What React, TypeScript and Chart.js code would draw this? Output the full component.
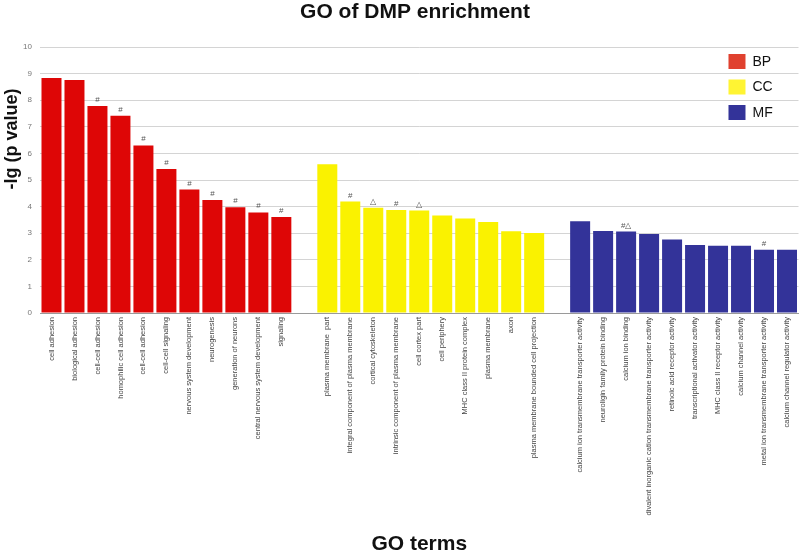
import React, { useEffect, useRef } from "react";
import { Chart, registerables } from "chart.js";

Chart.register(...registerables);

const bpTerms = [
  "cell adhesion",
  "biological adhesion",
  "cell-cell adhesion",
  "homophilic cell adhesion",
  "cell-cell adhesion",
  "cell-cell signaling",
  "nervous system development",
  "neurogenesis",
  "generation of neurons",
  "central nervous system development",
  "signaling",
];
const bpValues = [8.83, 8.76, 7.78, 7.42, 6.3, 5.41, 4.64, 4.25, 3.98, 3.78, 3.61];
const bpMarks = ["", "", "#", "#", "#", "#", "#", "#", "#", "#", "#"];

const ccTerms = [
  "plasma membrane  part",
  "integral component of plasma membrane",
  "cortical cytoskeleton",
  "intrinsic component of plasma membrane",
  "cell cortex part",
  "cell periphery",
  "MHC class II protein complex",
  "plasma membrane",
  "axon",
  "plasma membrane bounded cell projection",
];
const ccValues = [5.59, 4.19, 3.96, 3.87, 3.85, 3.67, 3.55, 3.42, 3.07, 3.01];
const ccMarks = ["", "#", "△", "#", "△", "", "", "", "", ""];

const mfTerms = [
  "calcium ion transmembrane transporter activity",
  "neuroligin family protein binding",
  "calcium ion binding",
  "divalent inorganic cation transmembrane transporter activity",
  "retinoic acid receptor activity",
  "transcriptional activator activity",
  "MHC class II receptor activity",
  "calcium channel activity",
  "metal ion transmembrane transporter activity",
  "calcium channel regulator activity",
];
const mfValues = [3.45, 3.08, 3.06, 2.97, 2.76, 2.56, 2.53, 2.53, 2.38, 2.38];
const mfMarks = ["", "", "#△", "", "", "", "", "", "#", ""];

const seriesNames = ["BP", "CC", "MF"];
const barColors = ["#de0606", "#faf200", "#333399"];
const legendColors = ["#e0412f", "#fff433", "#333399"];

const yTicks = [0, 1, 2, 3, 4, 5, 6, 7, 8, 9, 10];

const labels = [...bpTerms, "", ...ccTerms, "", ...mfTerms];
const nulls = (n: number) => Array(n).fill(null);

const bpData = [...bpValues, ...nulls(labels.length - bpValues.length)];
const ccData = [...nulls(bpTerms.length + 1), ...ccValues, ...nulls(mfTerms.length + 1)];
const mfData = [...nulls(bpTerms.length + ccTerms.length + 2), ...mfValues];
const bpMarkData = [...bpMarks, ...nulls(labels.length - bpMarks.length)];
const ccMarkData = [...nulls(bpTerms.length + 1), ...ccMarks, ...nulls(mfTerms.length + 1)];
const mfMarkData = [...nulls(bpTerms.length + ccTerms.length + 2), ...mfMarks];
const markSets = [bpMarkData, ccMarkData, mfMarkData];

const FONT = "'Liberation Sans', Arial, sans-serif";

const decorPlugin = {
  id: "decor",
  afterDatasetsDraw(chart: any) {
    const ctx = chart.ctx;
    ctx.save();
    ctx.font = `8px ${FONT}`;
    ctx.fillStyle = "#555";
    ctx.textAlign = "center";
    ctx.textBaseline = "alphabetic";
    chart.data.datasets.forEach((ds: any, di: number) => {
      const meta = chart.getDatasetMeta(di);
      meta.data.forEach((el: any, i: number) => {
        const m = markSets[di][i];
        if (m) ctx.fillText(m, el.x, el.y - 4);
      });
    });
    ctx.restore();
  },
  afterDraw(chart: any) {
    const ctx = chart.ctx;
    const area = chart.chartArea;
    ctx.save();
    // title
    ctx.font = `bold 21px ${FONT}`;
    ctx.fillStyle = "#111";
    ctx.textAlign = "center";
    ctx.textBaseline = "middle";
    ctx.fillText("GO of DMP enrichment", 415, 12);
    // y-axis title
    ctx.save();
    ctx.translate(12, 139);
    ctx.rotate(-Math.PI / 2);
    ctx.font = `bold 18px ${FONT}`;
    ctx.fillText("-lg (p value)", 0, 0);
    ctx.restore();
    // legend
    const lx = area.right - 71;
    const ly0 = area.top + 7;
    chart.data.datasets.forEach((ds: any, i: number) => {
      const y = ly0 + i * 25.5;
      ctx.fillStyle = legendColors[i];
      ctx.fillRect(lx + 1, y, 17, 15);
      ctx.fillStyle = "#111";
      ctx.font = `14px ${FONT}`;
      ctx.textAlign = "left";
      ctx.textBaseline = "middle";
      ctx.fillText(ds.label, lx + 25, y + 8);
    });
    ctx.restore();
  },
};

export default function App() {
  const ref = useRef<HTMLCanvasElement>(null);
  useEffect(() => {
    if (!ref.current) return;
    const chart = new Chart(ref.current, {
      type: "bar",
      data: {
        labels,
        datasets: [bpData, ccData, mfData].map((d, i) => ({
          label: seriesNames[i],
          data: d,
          backgroundColor: barColors[i],
          borderWidth: 0,
          barPercentage: 0.87,
          categoryPercentage: 1,
        })),
      },
      options: {
        responsive: false,
        animation: false,
        layout: { padding: { top: 47, right: 0, left: 0, bottom: 0 } },
        plugins: {
          legend: { display: false },
          title: { display: false },
          tooltip: { enabled: false },
        },
        scales: {
          x: {
            stacked: true,
            grid: { display: false, drawTicks: false },
            border: { display: true, color: "#9a9a9a", width: 1 },
            ticks: {
              autoSkip: false,
              minRotation: 90,
              maxRotation: 90,
              padding: 4,
              color: "#444",
              font: { size: 7.5, family: FONT },
            },
            title: {
              display: true,
              text: "GO terms",
              color: "#111",
              font: { size: 21, weight: "bold", family: FONT, lineHeight: 0.7 },
              padding: { top: 0, bottom: 0 },
            },
            afterFit(scale: any) {
              scale.height = 239;
            },
          },
          y: {
            stacked: true,
            min: 0,
            max: 10,
            afterBuildTicks(scale: any) {
              scale.ticks = yTicks.map((v) => ({ value: v }));
            },
            grid: { color: "#d4d4d4", lineWidth: 1, drawTicks: false },
            border: { display: false },
            ticks: {
              padding: 8,
              color: "#777",
              font: { size: 8, family: FONT },
            },
            afterFit(scale: any) {
              scale.width = 40;
            },
          },
        },
      },
      plugins: [decorPlugin],
    } as any);
    return () => chart.destroy();
  }, []);
  return (
    <div style={{ position: "fixed", left: 0, top: 0, width: 800, height: 552, background: "#fff" }}>
      <canvas ref={ref} width={800} height={552} style={{ display: "block" }} />
    </div>
  );
}
